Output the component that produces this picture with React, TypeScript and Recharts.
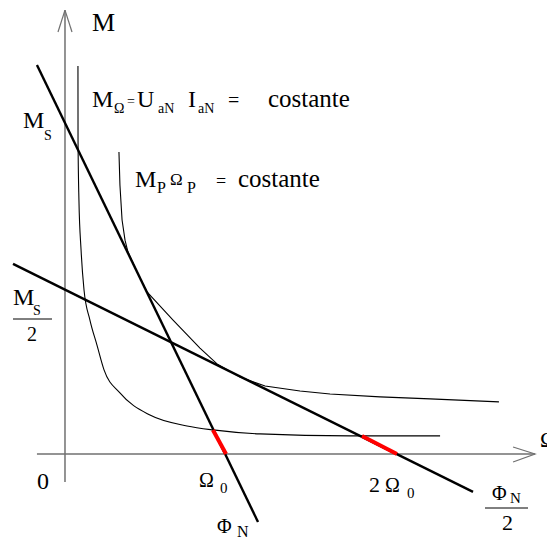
import React from "react";
import { LineChart, Line, XAxis, YAxis } from "recharts";

// Units: Ω with Ω0 ≈ 100, M with Ms ≈ 100
const X_DOMAIN = [-39.63, 293.9];
const Y_DOMAIN = [-25.76, 137.58];

// axes with arrow heads
const omegaAxis = [
  { x: -17.1, y: 0 },
  { x: 286.6, y: 0 },
];
const omegaArrow = [
  { x: 273.2, y: 2.12 },
  { x: 286.6, y: 0 },
  { x: 273.2, y: -2.42 },
];
const torqueAxis = [
  { x: 0, y: -8.5 },
  { x: 0, y: 134.5 },
];
const torqueArrowLeft = [
  { x: -4.27, y: 127.9 },
  { x: 0, y: 134.5 },
];
const torqueArrowRight = [
  { x: 0, y: 134.5 },
  { x: 4.27, y: 127.9 },
];

// mechanical characteristic at full flux (Φ_N) and at half flux (Φ_N / 2)
const fullFlux = [
  { x: -17.1, y: 117.9 },
  { x: 117.7, y: -20.6 },
];
const halfFlux = [
  { x: -31.7, y: 57.6 },
  { x: 248.8, y: -11.5 },
];
const fullFluxRed = [
  { x: 90.2, y: 7.27 },
  { x: 98.2, y: 0 },
];
const halfFluxRed = [
  { x: 181.1, y: 5.45 },
  { x: 202.4, y: 0 },
];

// M_Ω = U_aN I_aN = costante
const constTorqueCurve = [
  { x: 7.9, y: 117.6 },
  { x: 7.95, y: 95.2 },
  { x: 8.5, y: 77.0 },
  { x: 9.8, y: 61.8 },
  { x: 11.6, y: 49.7 },
  { x: 15.2, y: 40.6 },
  { x: 19.5, y: 33.0 },
  { x: 23.8, y: 25.5 },
  { x: 33.5, y: 18.5 },
  { x: 51.8, y: 11.8 },
  { x: 74.4, y: 8.5 },
  { x: 90.2, y: 7.3 },
  { x: 118.9, y: 6.1 },
  { x: 173.8, y: 5.5 },
  { x: 228.7, y: 5.5 },
];

// M_P Ω_P = costante
const constPowerCurve = [
  { x: 32.9, y: 91.5 },
  { x: 33.5, y: 81.5 },
  { x: 34.8, y: 70.9 },
  { x: 36.6, y: 64.8 },
  { x: 38.4, y: 61.2 },
  { x: 45.7, y: 53.3 },
  { x: 50.0, y: 49.1 },
  { x: 65.9, y: 40.6 },
  { x: 82.3, y: 32.1 },
  { x: 92.7, y: 27.3 },
  { x: 106.7, y: 23.3 },
  { x: 122.0, y: 20.6 },
  { x: 143.3, y: 19.1 },
  { x: 161.6, y: 18.2 },
  { x: 192.1, y: 17.3 },
  { x: 222.6, y: 16.7 },
  { x: 264.6, y: 15.8 },
];

// [text, x, baseline, font size]
const labelRuns: [string, number, number, number][] = [
  ["M", 92, 31, 26],
  ["M", 23, 128, 24],
  ["S", 44, 140, 14],
  ["M", 92, 107, 24],
  ["Ω", 114, 113, 14],
  ["=", 127, 106, 14],
  ["U", 137, 107, 24],
  ["aN", 158, 113, 14],
  ["I", 188, 107, 24],
  ["aN", 198, 113, 14],
  ["=", 228, 107, 20],
  ["costante", 268, 107, 25],
  ["M", 135, 187, 24],
  ["P", 157, 193, 16],
  ["Ω", 170, 185, 17],
  ["P", 187, 193, 16],
  ["=", 216, 187, 18],
  ["costante", 238, 187, 25],
  ["M", 13, 305, 24],
  ["S", 33, 315, 14],
  ["2", 27, 341, 20],
  ["0", 37, 489, 24],
  ["Ω", 199, 487, 20],
  ["0", 220, 493, 15],
  ["2", 369, 492, 22],
  ["Ω", 385, 492, 20],
  ["0", 407, 498, 15],
  ["Φ", 217, 533, 20],
  ["N", 237, 537, 16],
  ["Φ", 492, 500, 20],
  ["N", 510, 503, 15],
  ["2", 502, 530, 22],
  ["Ω", 540, 447, 22],
];

// fraction bars under M_S and Φ_N
const fractionBars: [number, number, number][] = [
  [13, 52, 319],
  [485, 528, 508],
];

const Labels = () => (
  <svg width={547} height={539} style={{ position: "absolute", left: 0, top: 0, pointerEvents: "none" }}>
    {labelRuns.map(([t, x, y, s], i) => (
      <text key={i} x={x} y={y} fontFamily="Liberation Serif" fontSize={s} fill="#000">
        {t}
      </text>
    ))}
    {fractionBars.map(([x1, x2, y], i) => (
      <line key={i} x1={x1} x2={x2} y1={y} y2={y} stroke="#000" strokeWidth={1} />
    ))}
  </svg>
);

const seg = (data: { x: number; y: number }[], stroke: string, width: number, type: "linear" | "monotone" = "linear") => (
  <Line
    data={data}
    dataKey="y"
    type={type}
    stroke={stroke}
    strokeWidth={width}
    dot={false}
    activeDot={false}
    isAnimationActive={false}
  />
);

export default function App() {
  return (
    <div style={{ position: "relative", width: 547, height: 539, background: "#fff" }}>
      <style>{`body { margin: 0; }`}</style>
      <LineChart width={547} height={539} margin={{ top: 0, right: 0, bottom: 0, left: 0 }}>
        <XAxis type="number" dataKey="x" domain={X_DOMAIN} allowDataOverflow hide />
        <YAxis type="number" domain={Y_DOMAIN} allowDataOverflow hide />
        {seg(omegaAxis, "#707070", 1.5)}
        {seg(omegaArrow, "#707070", 1.2)}
        {seg(torqueAxis, "#707070", 1.5)}
        {seg(torqueArrowLeft, "#707070", 1.2)}
        {seg(torqueArrowRight, "#707070", 1.2)}
        {seg(constTorqueCurve, "#000", 1.1, "monotone")}
        {seg(constPowerCurve, "#000", 1.1)}
        {seg(fullFlux, "#000", 2.4)}
        {seg(halfFlux, "#000", 2.4)}
        {seg(fullFluxRed, "#ff0000", 4)}
        {seg(halfFluxRed, "#ff0000", 4)}
      </LineChart>
      <Labels />
    </div>
  );
}
